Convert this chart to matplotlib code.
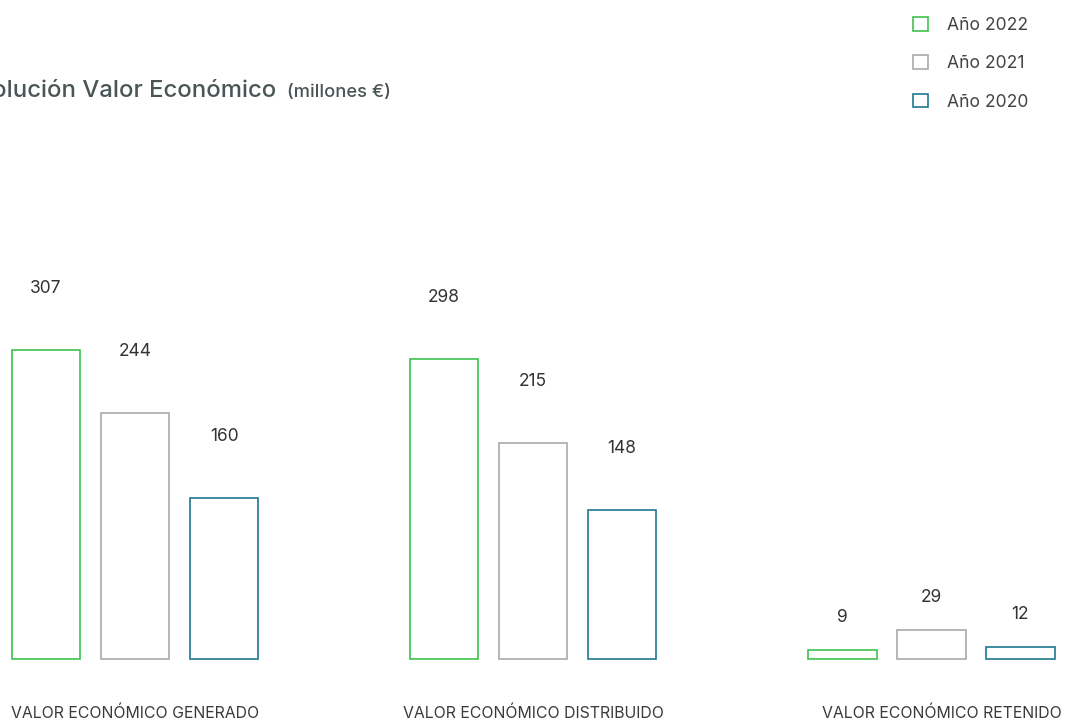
import matplotlib
matplotlib.use("Agg")
import matplotlib.pyplot as plt
from matplotlib.patches import Patch
import numpy as np

plt.rcParams['font.family'] = ['Inter', 'DejaVu Sans']

categories = ["VALOR ECONÓMICO GENERADO", "VALOR ECONÓMICO DISTRIBUIDO", "VALOR ECONÓMICO RETENIDO"]
series_names = ["Año 2022", "Año 2021", "Año 2020"]
values_2022 = [307, 298, 9]
values_2021 = [244, 215, 29]
values_2020 = [160, 148, 12]
colors = ["#3fc24f", "#a9a9a9", "#1f7892"]

W, H = 1065, 722
fig = plt.figure(figsize=(W / 100, H / 100), dpi=100)
ax = fig.add_axes([0, 0, 1, 1])
ax.axis('off')

px_per_unit_x = 89.0
group_step = 4.472
bar_w = 0.775
ppu_y = 1.0065
baseline_px = 659
ax.set_xlim(-135 / px_per_unit_x, (W - 135) / px_per_unit_x)
ax.set_ylim(-(H - baseline_px) / ppu_y, baseline_px / ppu_y)

all_series = [values_2022, values_2021, values_2020]
gx = np.arange(len(categories)) * group_step
for j, (vals, col) in enumerate(zip(all_series, colors)):
    xs = gx + (j - 1)
    ax.bar(xs, vals, width=bar_w, facecolor='none', edgecolor=col, linewidth=1.2)
    for x, v in zip(xs, vals):
        off = 57 if v > 100 else 28
        ax.text(x, v + off / ppu_y, str(v), ha='center', va='baseline',
                fontsize=12.5, color='#333333')

cat_y = -(718 - baseline_px) / ppu_y
cat_shift = [0, 0, 0.12]
for x, c, s in zip(gx, categories, cat_shift):
    ax.text(x + s, cat_y, c, ha='center', va='baseline', fontsize=11.4,
            color='#3a3a3a')

# title (partially clipped at left, as in the reference)
fig.text(276 / W, 1 - 97 / H, "Evolución Valor Económico", ha='right', va='baseline',
         fontsize=17.2, fontweight='medium', color='#4a5555')
fig.text(287 / W, 1 - 97 / H, "(millones €)", ha='left', va='baseline',
         fontsize=13.2, fontweight='medium', color='#4a5555')

handles = [Patch(facecolor='none', edgecolor=c, linewidth=1.2, label=n)
           for c, n in zip(colors, series_names)]
leg = fig.legend(handles=handles, loc='upper left',
                 bbox_to_anchor=(897 / W, 1 - 1 / H), frameon=False,
                 handlelength=0.85, handleheight=0.85,
                 handletextpad=1.1, labelspacing=1.22, labelcolor='#444444',
                 prop={'size': 12.6})

fig.savefig("out.png", dpi=100)
